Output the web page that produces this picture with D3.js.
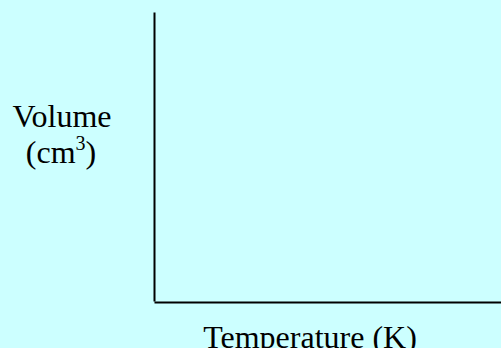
<!DOCTYPE html>
<html>
<head>
<meta charset="utf-8">
<script src="https://cdn.jsdelivr.net/npm/d3@7"></script>
<style>
  html, body { margin: 0; padding: 0; background: #ccffff; }
  svg { display: block; }
  .lbl { font-family: "Liberation Serif", "Times New Roman", serif; fill: #000; }
</style>
</head>
<body>
<div id="chart"></div>
<script>
// empty sketch axes: no data points, no ticks
var x_domain = [0, 100];
var y_domain = [0, 100];
var x_label = "Temperature (K)";
var y_label_lines = ["Volume", "(cm", "3", ")"];
var x_ticks = [];
var y_ticks = [];

var width = 501, height = 348;
var margin = {top: 12, right: 0, bottom: 47, left: 154};
var plot_w = width - margin.left - margin.right,
    plot_h = height - margin.top - margin.bottom;

var svg = d3.select("#chart")
    .append("svg")
        .attr("width", width)
        .attr("height", height);

svg.append("rect")
    .attr("width", width)
    .attr("height", height)
    .attr("fill", "#ccffff");

var g = svg.append("g")
    .attr("transform", "translate(" + margin.left + "," + margin.top + ")");

var x = d3.scaleLinear().domain(x_domain).range([0, plot_w]);
var y = d3.scaleLinear().domain(y_domain).range([plot_h, 0]);

var xAxis = g.append("g")
    .attr("transform", "translate(0," + (plot_h + 1) + ")")
    .call(d3.axisBottom(x).tickValues(x_ticks).tickSizeOuter(0));

var yAxis = g.append("g")
    .call(d3.axisLeft(y).tickValues(y_ticks).tickSizeOuter(0));

g.selectAll(".domain")
    .attr("stroke", "#000")
    .attr("stroke-width", 2);

// x label
svg.append("text")
    .attr("class", "lbl")
    .attr("text-anchor", "middle")
    .attr("x", 310)
    .attr("y", 348)
    .attr("font-size", "32px")
    .text(x_label);

// y label, two lines with superscript
svg.append("text")
    .attr("class", "lbl")
    .attr("text-anchor", "middle")
    .attr("x", 62)
    .attr("y", 127)
    .attr("font-size", "32px")
    .text(y_label_lines[0]);

var l2 = svg.append("text")
    .attr("class", "lbl")
    .attr("text-anchor", "middle")
    .attr("x", 61)
    .attr("y", 163)
    .attr("font-size", "32px");
l2.append("tspan").text(y_label_lines[1]);
l2.append("tspan").attr("font-size", "20px").attr("dy", -13).text(y_label_lines[2]);
l2.append("tspan").attr("dy", 13).text(y_label_lines[3]);
</script>
</body>
</html>
